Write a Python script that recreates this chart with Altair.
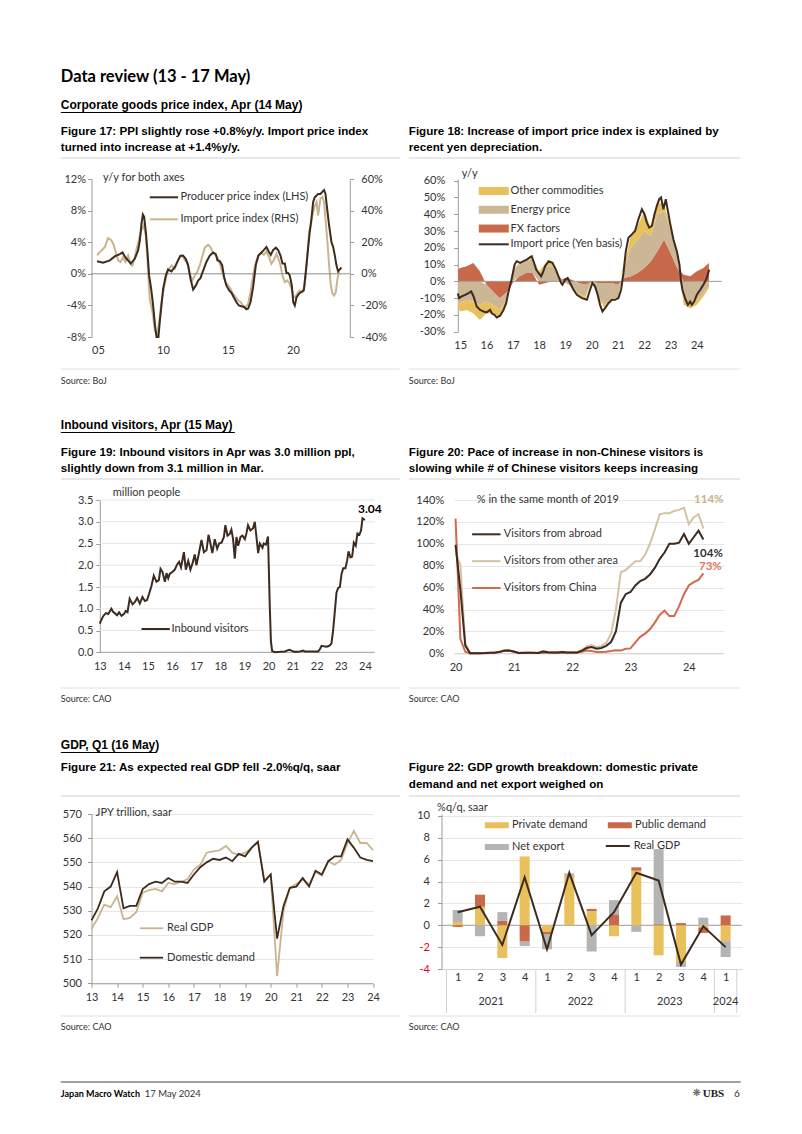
import json
import altair as alt
import pandas as pd

FONT = "Lato"
HFONT = "Liberation Sans"
TXT = "#333333"
BLACK = "#000000"
AX = "#9b9b9b"
GRID = "#e6e6e6"
LIGHT_RULE = "#e0e0e0"
DARK = "#3d2b1f"
BEIGE = "#c9b48f"
YELLOW = "#e9c15c"
TAN = "#cbb696"
TERRA = "#c8694a"
GRAYBAR = "#b4b4b4"
ORANGE = "#d2694b"
PALE = "#d4c3a2"

# ============================ DATA ============================
# Fig 17: PPI y/y (LHS, %) and import price index y/y (RHS, %)
PPI = [(2004.93, 1.6), (2005.39, 1.4), (2005.91, 1.7), (2006.29, 2.2), (2006.68, 2.5), (2006.88, 2.7),
       (2007.14, 2.0), (2007.52, 1.3), (2007.83, 1.9), (2008.09, 3.0), (2008.22, 4.2), (2008.34, 6.3),
       (2008.45, 7.5), (2008.55, 7.2), (2008.68, 5.3), (2008.81, 2.7), (2008.93, -0.2), (2009.09, -1.9),
       (2009.24, -4.0), (2009.39, -6.6), (2009.50, -8.0), (2009.65, -8.0), (2009.75, -6.1), (2009.88, -4.0),
       (2010.01, -1.9), (2010.22, -0.2), (2010.39, 0.55), (2010.65, 0.3), (2010.91, 0.85), (2011.16, 1.7),
       (2011.34, 2.3), (2011.55, 2.3), (2011.75, 1.9), (2011.93, 1.1), (2012.11, -0.6), (2012.32, -2.0),
       (2012.52, -1.5), (2012.70, -0.85), (2012.88, -0.55), (2013.09, 0.4), (2013.34, 1.5), (2013.60, 2.3),
       (2013.86, 2.7), (2014.06, 2.5), (2014.19, 1.7), (2014.37, 1.6), (2014.55, 1.1), (2014.70, -0.4),
       (2014.88, -1.5), (2015.09, -2.1), (2015.27, -2.4), (2015.45, -3.0), (2015.65, -3.6), (2015.83, -4.0),
       (2016.04, -4.1), (2016.22, -4.2), (2016.42, -4.5), (2016.55, -4.4), (2016.73, -3.6), (2016.93, -1.7),
       (2017.14, 1.1), (2017.34, 2.3), (2017.57, 2.7), (2017.75, 3.0), (2017.96, 3.4), (2018.14, 2.8),
       (2018.29, 2.4), (2018.47, 3.0), (2018.68, 3.3), (2018.86, 3.0), (2019.04, 2.3), (2019.19, 1.3),
       (2019.37, 1.3), (2019.50, 0.1), (2019.62, 0.1), (2019.75, -0.2), (2019.91, -1.5), (2020.02, -3.6),
       (2020.14, -4.0), (2020.27, -3.0), (2020.48, -2.5), (2020.65, -2.3), (2020.83, -2.1), (2021.04, 1.1),
       (2021.16, 3.2), (2021.29, 5.3), (2021.42, 7.0), (2021.55, 9.1), (2021.68, 9.7), (2021.81, 9.9),
       (2021.93, 10.1), (2022.11, 10.1), (2022.27, 10.4), (2022.39, 10.6), (2022.50, 10.1), (2022.63, 8.2),
       (2022.78, 6.1), (2022.96, 4.0), (2023.09, 3.4), (2023.22, 2.3), (2023.34, 1.1), (2023.47, 0.3),
       (2023.60, 0.55), (2023.73, 0.8)]
IMP = [(2004.93, 11.6), (2005.14, 13.7), (2005.52, 16.9), (2005.78, 22.6), (2006.04, 21.1), (2006.22, 18.0),
       (2006.37, 13.7), (2006.55, 8.5), (2006.73, 7.4), (2006.93, 10.6), (2007.11, 7.4), (2007.32, 11.6),
       (2007.50, 6.3), (2007.65, 5.3), (2007.83, 10.6), (2008.01, 16.9), (2008.16, 22.2), (2008.34, 27.5),
       (2008.52, 31.0), (2008.68, 24.0), (2008.78, 12.0), (2008.98, -16.0), (2009.19, -24.0), (2009.37, -36.0),
       (2009.55, -38.0), (2009.70, -30.7), (2009.88, -18.0), (2010.06, -9.5), (2010.27, -1.0), (2010.47, 3.2),
       (2010.65, 5.3), (2010.91, 3.2), (2011.09, 7.4), (2011.29, 10.6), (2011.50, 11.6), (2011.68, 8.5),
       (2011.86, 7.4), (2012.06, 0.0), (2012.27, -4.2), (2012.45, -1.0), (2012.63, 1.1), (2012.83, 5.3),
       (2013.04, 11.6), (2013.24, 16.9), (2013.47, 18.4), (2013.65, 16.9), (2013.86, 13.3), (2014.06, 11.6),
       (2014.24, 9.5), (2014.42, 5.3), (2014.63, -1.0), (2014.81, -5.3), (2015.01, -7.4), (2015.19, -9.5),
       (2015.39, -12.7), (2015.60, -14.8), (2015.78, -16.9), (2015.98, -18.0), (2016.16, -20.1), (2016.37, -21.1),
       (2016.55, -19.0), (2016.73, -11.6), (2016.93, -1.0), (2017.14, 7.4), (2017.34, 11.6), (2017.57, 13.3),
       (2017.75, 12.0), (2017.96, 14.2), (2018.16, 10.6), (2018.34, 6.3), (2018.52, 8.5), (2018.73, 12.7),
       (2018.88, 9.5), (2019.04, 5.3), (2019.19, -1.0), (2019.37, -5.3), (2019.55, -4.2), (2019.75, -6.3),
       (2019.93, -10.6), (2020.06, -14.8), (2020.16, -14.8), (2020.32, -12.7), (2020.52, -10.6), (2020.73, -11.6),
       (2020.91, -7.4), (2021.09, 11.6), (2021.24, 26.4), (2021.37, 30.7), (2021.50, 37.0), (2021.65, 42.3),
       (2021.81, 45.5), (2021.93, 37.0), (2022.11, 47.6), (2022.27, 48.6), (2022.39, 45.5), (2022.52, 32.8),
       (2022.65, 20.1), (2022.78, 5.3), (2022.91, -7.4), (2023.04, -12.7), (2023.16, -13.7), (2023.29, -11.6),
       (2023.42, -3.2), (2023.55, 1.4)]

# Fig 18: contributions to import price y/y (%), quarterly
T18 = [2014.92, 2015.0, 2015.25, 2015.5, 2015.75, 2016.0, 2016.25, 2016.5, 2016.75, 2017.0, 2017.25, 2017.5,
       2017.75, 2018.0, 2018.25, 2018.5, 2018.75, 2019.0, 2019.25, 2019.5, 2019.75, 2020.0, 2020.25, 2020.5,
       2020.75, 2021.0, 2021.25, 2021.5, 2021.75, 2022.0, 2022.25, 2022.5, 2022.75, 2023.0, 2023.25, 2023.5,
       2023.75, 2024.0, 2024.25, 2024.46]
FX18 = [7, 8, 9, 11, 6, -2, -6, -10, -7, -1, 3, 5, 5, -2, -1, 0, 0.5, 2, 1, -1, -2, -1, -1, -1, -1, -2, 2, 3, 5,
        8, 12, 18, 25, 17, 8, 4, 3, 6, 8, 11]
EN18 = [-11, -13, -11, -12, -14, -10, -8, -7, -4, 6, 7, 7, 8, 5, 9, 9, 3, -1, -3, -6, -7, 0, -8, -13, -9, -8, 7,
        17, 20, 22, 15, 22, 17, 14, 9, -11, -13, -11, -7, -3]
OT18 = [-4, -5, -6, -7, -9, -7, -5, -4, -2, 1, 1, 1, 1, 1, 2, 2, 0, 0, -1, -1, -1.5, 0, -1, -2, -1, 0, 1, 8, 8,
        12, 5, 7, 4, 2, 0, -3, -3, -3, -2, -1]
IMPYEN = [(2014.91, -7.2), (2014.96, -10), (2015.06, -9), (2015.19, -8), (2015.32, -7), (2015.42, -6),
          (2015.51, -9), (2015.63, -15), (2015.76, -17), (2015.89, -18), (2016.01, -18.5), (2016.14, -17),
          (2016.20, -19), (2016.31, -20), (2016.39, -21.5), (2016.52, -20.5), (2016.65, -17), (2016.75, -13),
          (2016.84, -6), (2016.94, 0), (2017.07, 10), (2017.15, 12), (2017.28, 11), (2017.41, 12), (2017.53, 13),
          (2017.62, 14), (2017.72, 15), (2017.79, 12), (2017.89, 7), (2017.98, 5), (2018.08, 3), (2018.14, 5),
          (2018.23, 9), (2018.36, 12), (2018.51, 11), (2018.64, 7), (2018.74, 3), (2018.84, -1), (2018.89, -2),
          (2018.99, 1), (2019.09, 2), (2019.18, -1), (2019.31, -5), (2019.44, -8), (2019.63, -10), (2019.82, -11),
          (2019.94, -5), (2020.03, -1), (2020.13, -3), (2020.23, -8), (2020.32, -14), (2020.41, -18),
          (2020.51, -16), (2020.64, -13), (2020.77, -11), (2020.89, -11), (2021.02, -10), (2021.12, -5),
          (2021.21, 5), (2021.30, 18), (2021.40, 26), (2021.53, 28), (2021.65, 30), (2021.78, 37), (2021.91, 43),
          (2022.01, 40), (2022.10, 35), (2022.19, 32), (2022.29, 33), (2022.39, 40), (2022.48, 45), (2022.57, 49),
          (2022.64, 50), (2022.73, 43), (2022.82, 49), (2022.90, 42), (2022.98, 35), (2023.11, 25), (2023.24, 18),
          (2023.34, 10), (2023.40, 0), (2023.45, -5), (2023.55, -10), (2023.66, -14), (2023.75, -12),
          (2023.81, -14), (2023.90, -12), (2024.00, -8), (2024.13, -5), (2024.21, -3), (2024.32, 0), (2024.38, 2),
          (2024.47, 7)]

# Fig 19: inbound visitors (million people)
INBOUND = [(2013.00, 0.66), (2013.07, 0.75), (2013.14, 0.83), (2013.25, 0.90), (2013.35, 0.88), (2013.48, 1.00),
           (2013.55, 0.93), (2013.62, 0.90), (2013.72, 0.85), (2013.80, 0.92), (2013.90, 0.84), (2014.00, 0.88),
           (2014.08, 0.95), (2014.15, 0.92), (2014.24, 1.23), (2014.36, 1.10), (2014.45, 1.15), (2014.55, 1.25),
           (2014.66, 1.12), (2014.77, 1.27), (2014.87, 1.18), (2014.96, 1.20), (2015.05, 1.35), (2015.14, 1.52),
           (2015.24, 1.76), (2015.35, 1.62), (2015.45, 1.66), (2015.52, 1.92), (2015.60, 1.85), (2015.70, 1.62),
           (2015.77, 1.82), (2015.84, 1.70), (2015.90, 1.80), (2016.02, 1.85), (2016.11, 1.90), (2016.21, 2.02),
           (2016.29, 2.08), (2016.37, 1.95), (2016.49, 2.30), (2016.57, 1.90), (2016.67, 2.10), (2016.76, 1.90),
           (2016.85, 2.05), (2016.94, 2.25), (2017.01, 2.00), (2017.12, 2.30), (2017.22, 2.58), (2017.32, 2.30),
           (2017.43, 2.35), (2017.51, 2.70), (2017.59, 2.50), (2017.67, 2.28), (2017.77, 2.60), (2017.87, 2.38),
           (2017.95, 2.50), (2018.05, 2.52), (2018.15, 2.65), (2018.21, 2.92), (2018.30, 2.68), (2018.39, 2.72),
           (2018.46, 2.82), (2018.53, 2.60), (2018.60, 2.15), (2018.67, 2.65), (2018.74, 2.45), (2018.84, 2.65),
           (2018.92, 2.68), (2019.02, 2.60), (2019.09, 2.75), (2019.15, 2.92), (2019.25, 2.80), (2019.36, 2.85),
           (2019.43, 3.00), (2019.50, 2.65), (2019.57, 2.28), (2019.64, 2.50), (2019.75, 2.40), (2019.80, 2.50),
           (2019.89, 2.47), (2019.98, 2.66), (2020.05, 1.10), (2020.10, 0.25), (2020.15, 0.03), (2020.26, 0.003),
           (2020.47, 0.01), (2020.68, 0.02), (2020.81, 0.05), (2020.88, 0.06), (2020.95, 0.04), (2021.09, 0.01),
           (2021.30, 0.02), (2021.44, 0.04), (2021.51, 0.02), (2021.85, 0.02), (2022.06, 0.02), (2022.13, 0.07),
           (2022.20, 0.15), (2022.29, 0.14), (2022.41, 0.13), (2022.52, 0.15), (2022.61, 0.20), (2022.68, 0.50),
           (2022.75, 0.93), (2022.82, 1.37), (2022.89, 1.48), (2022.96, 1.50), (2023.03, 1.80), (2023.10, 1.93),
           (2023.19, 1.93), (2023.26, 2.10), (2023.32, 2.32), (2023.40, 2.18), (2023.47, 2.20), (2023.54, 2.52),
           (2023.62, 2.45), (2023.69, 2.73), (2023.77, 2.70), (2023.84, 2.80), (2023.90, 3.08), (2024.00, 3.04)]

# Fig 20: visitors, % of the same month of 2019 (monthly Jan 2020 - Apr 2024)
MONTH_START = "2020-01"
ABROAD = [99, 58, 7, 0.1, 0.1, 0.1, 0.2, 0.4, 0.6, 1.1, 2.4, 2.6,
          1.7, 0.3, 0.6, 0.4, 0.4, 0.3, 1.7, 1.0, 0.8, 0.8, 1.2, 0.7,
          0.7, 0.8, 2.4, 4.8, 5.8, 4.2, 4.9, 6.8, 10.3, 20, 46, 54,
          56, 62, 66, 68, 72, 78, 86, 92, 100, 100, 101, 109,
          100, 106, 112, 104]
OTHER = [92, 80, 9, 0.1, 0.1, 0.1, 0.2, 0.4, 0.7, 1.2, 2.5, 2.3,
         1.5, 0.3, 0.6, 0.5, 0.4, 0.4, 2.3, 1.3, 1.0, 0.9, 1.4, 0.8,
         0.8, 0.9, 3.2, 6.2, 7.5, 5.5, 6.5, 9.5, 18, 40, 74, 76,
         80, 84, 84, 90, 100, 113, 127, 128, 128, 130, 131, 133,
         118, 124, 127, 114]
CHINA = [123, 13, 1.4, 0.03, 0.02, 0.02, 0.1, 0.2, 0.4, 1.5, 2.5, 2.5,
         1.5, 0.3, 0.3, 0.4, 0.2, 0.2, 0.5, 0.5, 0.4, 0.4, 0.5, 0.4,
         0.4, 0.5, 1.5, 2.5, 2.0, 1.3, 1.2, 1.5, 2.0, 2.7, 2.5, 4.2,
         4.5, 10, 15, 18, 22, 28, 35, 39, 34, 34, 43, 54,
         62, 65, 67, 73]

# Fig 21: JPY trillion, saar (quarterly 2013Q1 - 2024Q1)
Q_START = 2013
RGDP = [522.5, 527, 532.5, 531.5, 536, 526.5, 527, 529.5, 537.5, 538.5, 539, 538, 541.5, 541, 542, 543, 547,
        549, 554, 554.5, 555, 556.8, 554, 553, 554, 556, 558.5, 542.5, 545, 503, 530, 539.5, 541, 543, 541,
        546, 544.5, 550.5, 549, 551, 558, 563, 558, 558, 555]
DDEM = [526, 531, 538, 540, 546, 531, 532, 532, 539, 541, 542, 541.5, 543.5, 542, 542, 541.5, 545, 548, 550,
        551.5, 551, 552, 550.5, 553.5, 552.5, 556, 558.5, 542, 545, 518.5, 532, 539.5, 540, 543.5, 540, 546.5,
        545, 550.5, 552.5, 552.5, 559.5, 556, 552, 551, 550.5]

# Fig 22: %q/q saar contributions
QUARTERS = ["2021Q1", "2021Q2", "2021Q3", "2021Q4", "2022Q1", "2022Q2", "2022Q3", "2022Q4",
            "2023Q1", "2023Q2", "2023Q3", "2023Q4", "2024Q1"]
PRIV = [0.3, 1.7, -3.0, 6.3, -0.6, 4.5, 1.3, -1.0, 5.0, -2.75, -3.36, -0.2, -1.45]
PUB = [-0.15, 1.1, 0.4, -1.5, -0.2, 0.05, 0.2, 1.0, 0.3, 0.1, 0.2, -0.5, 0.9]
NETX = [1.1, -1.0, 0.8, -0.4, -1.4, 0.2, -2.4, 1.3, -0.6, 6.87, -0.45, 0.7, -1.45]
GDPQ = [1.2, 1.7, -1.8, 4.4, -2.2, 4.8, -0.9, 1.2, 4.8, 4.1, -3.6, -0.1, -2.0]

# ============================ HELPERS ============================
ONE = pd.DataFrame({"k": [0]})


def text_at(o, s, px, py, size=11, bold=False, color=TXT, align="left", font=FONT):
    return alt.Chart(ONE).mark_text(
        text=s, align=align, baseline="middle", font=font, fontSize=size,
        fontWeight="bold" if bold else "normal", color=color,
    ).encode(x=alt.value(px - o[0]), y=alt.value(py - o[1]))


def rule_at(o, px1, px2, py, color, width=1.0, opacity=1.0):
    return alt.Chart(ONE).mark_rule(color=color, strokeWidth=width, strokeOpacity=opacity).encode(
        x=alt.value(px1 - o[0]), x2=alt.value(px2 - o[0]), y=alt.value(py - o[1]))


def leg_line(o, x1, x2, label_x, rows, sw=2.0):
    cx = (x1 + x2) / 2.0 - o[0]
    lx = cx - 5.5
    half = (x2 - x1) / 8.0
    props = dict(orient="none", legendX=lx, legendY=rows[0] - o[1] - 5.5, title=None, padding=0,
                 symbolType=f"M-{half:.3f},0H{half:.3f}", symbolSize=64, symbolStrokeWidth=sw,
                 labelOffset=(label_x - o[0]) - lx - 11, labelFont=FONT, labelFontSize=11, labelColor=TXT)
    if len(rows) > 1:
        props["rowPadding"] = (rows[1] - rows[0]) - 11
    return alt.Legend(**props)


def leg_rect(o, x1, x2, h, label_x, rows, columns=None, colpad=None):
    cx = (x1 + x2) / 2.0 - o[0]
    lx = cx - 5.5
    a = (x2 - x1) / 8.0
    b = h / 8.0
    props = dict(orient="none", legendX=lx, legendY=rows[0] - o[1] - 5.5, title=None, padding=0,
                 symbolType=f"M-{a:.3f},-{b:.3f}H{a:.3f}V{b:.3f}H-{a:.3f}Z", symbolSize=64,
                 symbolStrokeWidth=0, labelOffset=(label_x - o[0]) - lx - 11,
                 labelFont=FONT, labelFontSize=11, labelColor=TXT)
    if len(rows) > 1:
        props["rowPadding"] = (rows[1] - rows[0]) - 11
    if columns:
        props["columns"] = columns
        props["columnPadding"] = colpad
    return alt.Legend(**props)


YY = "format(datum.value % 100, '02d')"
PCT = "datum.value + '%'"


def heading(o, s, y, underline_to):
    return [text_at(o, s, 61, y, 12, True, BLACK, "left", HFONT),
            rule_at(o, 61, underline_to, y + 7.5, BLACK, 1.0)]


def caption(o, lines, x, ys, rule_x2, rule_y):
    out = [text_at(o, s, x, y, 11.6, True, BLACK, "left", HFONT) for s, y in zip(lines, ys)]
    out.append(rule_at(o, x, rule_x2, rule_y, LIGHT_RULE, 1.5))
    return out


def source(o, s, x, x2, rule_y, y):
    return [rule_at(o, x, x2, rule_y, LIGHT_RULE, 1.0), text_at(o, s, x, y, 9, False, TXT)]


def spacer(o, py):
    return rule_at(o, 61, 400, py, "#ffffff", 1.0, 0.0)


def ychan(field, domain, axis, stack=None):
    kw = dict(title=None, scale=alt.Scale(domain=domain, nice=False, zero=False), axis=axis)
    if stack:
        kw["stack"] = stack
    return alt.Y(field, **kw)


def xchan(field, domain, axis):
    return alt.X(field, title=None, scale=alt.Scale(domain=domain, nice=False, zero=False), axis=axis)


# ============================ FIG 17 ============================
O17 = (91.7, 179.0)
S_PPI, S_IMP = "Producer price index (LHS)", "Import price index (RHS)"
ppi = pd.DataFrame(PPI, columns=["t", "v"]); ppi["s"] = S_PPI
imp = pd.DataFrame(IMP, columns=["t", "v"]); imp["s"] = S_IMP
c17 = alt.Color("s:N", scale=alt.Scale(domain=[S_PPI, S_IMP], range=[DARK, BEIGE]),
                legend=leg_line(O17, 150.0, 178.3, 180.7, [197.3, 218.3]))
x17 = xchan("t:Q", [2004.5, 2024.37],
            alt.Axis(values=[2005, 2010, 2015, 2020], labelExpr=YY, domain=False, ticks=False, grid=False,
                     labelPadding=7))
y17l = ychan("v:Q", [-8, 12],
             alt.Axis(orient="left", values=[-8, -4, 0, 4, 8, 12], labelExpr=PCT, grid=False,
                      domainColor=AX, tickColor=AX, tickSize=4, labelPadding=2))
y17r = ychan("v:Q", [-40, 60],
             alt.Axis(orient="right", values=[-40, -20, 0, 20, 40, 60], labelExpr=PCT, grid=False,
                      domainColor=AX, tickColor=AX, tickSize=4, labelPadding=7))
imp_line = alt.Chart(imp).mark_line(strokeWidth=2).encode(x=x17, y=y17r, color=c17)
zero17 = alt.Chart(pd.DataFrame({"v": [0]})).mark_rule(color="#8c8c8c", strokeWidth=1).encode(y=y17l)
ppi_line = alt.Chart(ppi).mark_line(strokeWidth=2).encode(x=x17, y=y17l, color=c17)
decor17 = [
    spacer(O17, 62), spacer(O17, 395),
    text_at(O17, "Data review (13 - 17 May)", 61, 77, 16.5, True, BLACK),
    *heading(O17, "Corporate goods price index, Apr (14 May)", 105, 301),
    *caption(O17, ["Figure 17: PPI slightly rose +0.8%y/y. Import price index",
                   "turned into increase at +1.4%y/y."], 61, [132, 148], 400, 158),
    text_at(O17, "y/y for both axes", 103.3, 177.7, 11),
    *source(O17, "Source: BoJ", 61, 400, 369, 380.5),
]
fig17 = alt.layer(imp_line, alt.layer(zero17, ppi_line), *decor17).resolve_scale(
    y="independent").properties(width=258.3, height=158.0)

# ============================ FIG 18 ============================
O18 = (459.0, 179.0)
S_OT, S_EN, S_FX, S_YEN = "Other commodities", "Energy price", "FX factors", "Import price (Yen basis)"
rows18 = []
for t, fx, en, ot in zip(T18, FX18, EN18, OT18):
    rows18 += [(t, S_FX, fx, 0), (t, S_EN, en, 1), (t, S_OT, ot, 2)]
df18 = pd.DataFrame(rows18, columns=["t", "s", "v", "o"])
yen = pd.DataFrame(IMPYEN, columns=["t", "v"]); yen["s"] = S_YEN
x18 = xchan("t:Q", [2014.91, 2024.95],
            alt.Axis(values=list(range(2015, 2025)), labelExpr=YY, domain=False, ticks=False, grid=False,
                     labelPadding=8))
AX18 = alt.Axis(values=list(range(-30, 61, 10)), labelExpr=PCT, grid=False, domainColor=AX,
                tickColor=AX, tickSize=4, labelPadding=9)
y18s = ychan("v:Q", [-30, 61], AX18, stack="zero")
y18 = ychan("v:Q", [-30, 61], AX18)
area18 = alt.Chart(df18).mark_area(opacity=1).encode(
    x=x18, y=y18s,
    color=alt.Color("s:N", scale=alt.Scale(domain=[S_OT, S_EN, S_FX], range=[YELLOW, TAN, TERRA]),
                    legend=leg_rect(O18, 480, 510, 8, 511.7, [191.0, 208.77])),
    order=alt.Order("o:Q"))
zero18 = alt.Chart(pd.DataFrame({"v": [0]})).mark_rule(color="#9a9a9a", strokeWidth=1).encode(y=y18)
line18 = alt.Chart(yen).mark_line(strokeWidth=2).encode(
    x=x18, y=y18,
    color=alt.Color("s:N", scale=alt.Scale(domain=[S_YEN], range=[DARK]),
                    legend=leg_line(O18, 480, 510, 511.7, [244.3])))
decor18 = [
    *caption(O18, ["Figure 18: Increase of import price index is explained by",
                   "recent yen depreciation."], 410, [132, 148], 741, 158),
    text_at(O18, "y/y", 463, 174, 11),
    *source(O18, "Source: BoJ", 410, 741, 369, 380.5),
]
fig18 = alt.layer(area18, zero18, line18, *decor18).resolve_scale(color="independent").properties(
    width=264.0, height=152.7)

# ============================ FIG 19 ============================
O19 = (91.7, 500.0)
X19_END = 2024.41
Y19_TICKS = [0, 0.5, 1.0, 1.5, 2.0, 2.5, 3.0, 3.5]
inb = pd.DataFrame(INBOUND, columns=["t", "v"]); inb["s"] = "Inbound visitors"
x19 = xchan("t:Q", [2012.656, X19_END],
            alt.Axis(values=list(range(2013, 2025)), labelExpr=YY, domain=False, ticks=False, grid=False,
                     labelPadding=8))
y19 = ychan("v:Q", [0, 3.5],
            alt.Axis(values=Y19_TICKS, format=".1f", offset=-8.3, grid=False, domainColor=AX,
                     tickColor=AX, tickSize=4, labelPadding=3))
x19_start = float(inb["t"].iloc[0])
grid_df = pd.DataFrame({"v": Y19_TICKS, "t": x19_start, "t2": X19_END})
grid19 = alt.Chart(grid_df[grid_df["v"] > 0]).mark_rule(color=GRID, strokeWidth=1).encode(
    y=y19, x=x19, x2="t2:Q")
base19 = alt.Chart(grid_df[grid_df["v"] == 0]).mark_rule(color=AX, strokeWidth=1).encode(
    y=y19, x=x19, x2="t2:Q")
line19 = alt.Chart(inb).mark_line(strokeWidth=2).encode(
    x=x19, y=y19,
    color=alt.Color("s:N", scale=alt.Scale(domain=["Inbound visitors"], range=[DARK]),
                    legend=leg_line(O19, 141.7, 170.0, 171.7, [629.0])))
last19 = inb.tail(1).copy(); last19["lab"] = last19["v"].map(lambda v: f"{v:.2f}")
lab19 = alt.Chart(last19).mark_text(font=FONT, fontSize=12, fontWeight="bold", color=BLACK, dx=5, dy=-11,
                                     align="center", baseline="middle").encode(x=x19, y=y19, text="lab:N")
decor19 = [
    spacer(O19, 395), spacer(O19, 715),
    *heading(O19, "Inbound visitors, Apr (15 May)", 425, 235),
    *caption(O19, ["Figure 19: Inbound visitors in Apr was 3.0 million ppl,",
                   "slightly down from 3.1 million in Mar."], 61, [453, 469], 400, 479),
    text_at(O19, "million people", 113, 493, 11),
    *source(O19, "Source: CAO", 61, 400, 688, 698.5),
]
fig19 = alt.layer(grid19, base19, line19, lab19, *decor19).properties(width=283.3, height=152.3)

# ============================ FIG 20 ============================
O20 = (455.0, 500.0)
S_AB, S_OA, S_CN = "Visitors from abroad", "Visitors from other area", "Visitors from China"
months = pd.date_range(MONTH_START, periods=len(ABROAD), freq="MS")
tm = [d.year + (d.month - 1) / 12.0 for d in months]
d_ab = pd.DataFrame({"t": tm, "v": ABROAD, "s": S_AB})
d_oa = pd.DataFrame({"t": tm, "v": OTHER, "s": S_OA})
d_cn = pd.DataFrame({"t": tm, "v": CHINA, "s": S_CN})
c20 = alt.Color("s:N", scale=alt.Scale(domain=[S_AB, S_OA, S_CN], range=[DARK, PALE, ORANGE]),
                legend=leg_line(O20, 473.3, 501.7, 505.0, [534.3, 560.15]))
x20 = xchan("t:Q", [2019.97, 2024.6],
            alt.Axis(values=[2020, 2021, 2022, 2023, 2024], labelExpr=YY, domain=True,
                     domainColor="#d0d0d0", ticks=False, grid=False, labelPadding=8))
y20 = ychan("v:Q", [0, 140],
            alt.Axis(values=list(range(0, 141, 20)), labelExpr=PCT, domain=False, ticks=False, grid=True,
                     gridColor=GRID, labelPadding=10))
l_oa = alt.Chart(d_oa).mark_line(strokeWidth=2).encode(x=x20, y=y20, color=c20)
l_cn = alt.Chart(d_cn).mark_line(strokeWidth=2).encode(x=x20, y=y20, color=c20)
l_ab = alt.Chart(d_ab).mark_line(strokeWidth=2).encode(x=x20, y=y20, color=c20)


def end_label(df, color, dx, dy):
    last = df.tail(1).copy()
    last["lab"] = last["v"].map(lambda v: f"{v:.0f}%")
    return alt.Chart(last).mark_text(font=FONT, fontSize=11.5, fontWeight="bold", color=color, dx=dx, dy=dy,
                                     align="center", baseline="middle").encode(x=x20, y=y20, text="lab:N")


decor20 = [
    *caption(O20, ["Figure 20: Pace of increase in non-Chinese visitors is",
                   "slowing while # of Chinese visitors keeps increasing"], 410, [453, 469], 741, 479),
    text_at(O20, "% in the same month of 2019", 478, 500, 11),
    *source(O20, "Source: CAO", 410, 741, 688, 698.5),
]
fig20 = alt.layer(l_oa, l_cn, l_ab, end_label(d_oa, "#c8b28c", 5.4, -28.5), end_label(d_ab, TXT, 4.7, 14.5),
                  end_label(d_cn, "#d9775c", 7, -6), *decor20).properties(width=270.0, height=153.3)

# ============================ FIG 21 ============================
O21 = (91.7, 814.0)
S_RG, S_DD = "Real GDP", "Domestic demand"
tq = [Q_START + i / 4.0 for i in range(len(RGDP))]
d_rg = pd.DataFrame({"t": tq, "v": RGDP, "s": S_RG})
d_dd = pd.DataFrame({"t": tq, "v": DDEM, "s": S_DD})
c21 = alt.Color("s:N", scale=alt.Scale(domain=[S_RG, S_DD], range=[BEIGE, DARK]),
                legend=leg_line(O21, 140.0, 163.3, 167.3, [928.3, 956.7], sw=1.8))
x21 = xchan("t:Q", [2013, 2024],
            alt.Axis(values=list(range(2013, 2025)), labelExpr=YY, domainColor=AX, tickColor=AX,
                     tickSize=4, grid=False, labelPadding=4))
y21 = ychan("v:Q", [500, 570],
            alt.Axis(values=list(range(500, 571, 10)), domainColor=AX, tickColor=AX, tickSize=4,
                     labelPadding=6, grid=True, gridColor=GRID))
l_rg = alt.Chart(d_rg).mark_line(strokeWidth=1.8).encode(x=x21, y=y21, color=c21)
l_dd = alt.Chart(d_dd).mark_line(strokeWidth=1.8).encode(x=x21, y=y21, color=c21)
decor21 = [
    spacer(O21, 715), spacer(O21, 1045),
    *heading(O21, "GDP, Q1 (16 May)", 745, 157),
    *caption(O21, ["Figure 21: As expected real GDP fell -2.0%q/q, saar"], 61, [768], 400, 796),
    text_at(O21, "JPY trillion, saar", 96, 813, 11),
    *source(O21, "Source: CAO", 61, 400, 1016, 1027),
]
fig21 = alt.layer(l_rg, l_dd, *decor21).properties(width=281.6, height=169.3)

# ============================ FIG 22 ============================
O22 = (442.7, 814.0)
S_PR, S_PU, S_NX, S_GD = "Private demand", "Public demand", "Net export", "Real GDP"
rows22 = []
for i, (a, b, c) in enumerate(zip(PRIV, PUB, NETX)):
    rows22 += [(i, S_PR, a, 0), (i, S_PU, b, 1), (i, S_NX, c, 2)]
df22 = pd.DataFrame(rows22, columns=["i", "s", "v", "o"])
d_gdp = pd.DataFrame({"i": list(range(len(GDPQ))), "v": GDPQ, "s": S_GD})
qlabels = [q[-1] for q in QUARTERS]
years = sorted(set(q[:4] for q in QUARTERS))
yr_pos = pd.DataFrame({"i": [sum(i for i, q in enumerate(QUARTERS) if q[:4] == y) /
                             sum(1 for q in QUARTERS if q[:4] == y) for y in years], "lab": years})
seps = [min(i for i, q in enumerate(QUARTERS) if q[:4] == y) - 0.5 for y in years] + [len(QUARTERS) - 0.5]
sep_df = pd.DataFrame({"i": seps})
H22 = 155.0
x22 = xchan("i:Q", [-0.5, len(QUARTERS) - 0.5],
            alt.Axis(values=list(range(len(QUARTERS))), labelExpr=f"{json.dumps(qlabels)}[datum.value]",
                     domain=True, domainColor="#d6d6d6", ticks=False, grid=False, labelPadding=2))
AX22 = alt.Axis(values=list(range(-4, 11, 2)), labelExpr="datum.value + ''", domainColor=AX,
                tickColor=AX, tickSize=4, labelPadding=8, grid=True, gridColor=GRID,
                labelColor={"condition": {"test": "datum.value < 0", "value": "#e3001b"}, "value": TXT})
y22s = ychan("v:Q", [-4, 10.18], AX22, stack="zero")
y22 = ychan("v:Q", [-4, 10.18], AX22)
zero22 = alt.Chart(pd.DataFrame({"v": [0]})).mark_rule(color="#a0a0a0", strokeWidth=1).encode(y=y22)
# legend fills column-wise, so the domain lists Private, Net export, Public to read row-wise in the page
bars22 = alt.Chart(df22).mark_bar(size=10, opacity=1, orient="vertical").encode(
    x=x22, y=y22s,
    color=alt.Color("s:N", scale=alt.Scale(domain=[S_PR, S_NX, S_PU], range=[YELLOW, GRAYBAR, TERRA]),
                    legend=leg_rect(O22, 486.0, 510.0, 6, 513.3, [825.0, 846.0], columns=2, colpad=19)),
    order=alt.Order("o:Q"))
line22 = alt.Chart(d_gdp).mark_line(strokeWidth=2).encode(
    x=x22, y=y22,
    color=alt.Color("s:N", scale=alt.Scale(domain=[S_GD], range=[DARK]),
                    legend=leg_line(O22, 607.0, 631.0, 635.0, [846.0])))
sep22 = alt.Chart(sep_df).mark_rule(color="#d3d3d3", strokeWidth=1).encode(
    x=x22, y=alt.value(H22), y2=alt.value(1013 - O22[1]))
yrs22 = alt.Chart(yr_pos).mark_text(font=FONT, fontSize=11, color=TXT, align="center", baseline="middle").encode(
    x=x22, y=alt.value(1001.7 - O22[1]), text="lab:N")
decor22 = [
    *caption(O22, ["Figure 22: GDP growth breakdown: domestic private",
                   "demand and net export weighed on"], 410, [768, 785], 741, 796),
    text_at(O22, "%q/q, saar", 438.3, 808, 11),
    *source(O22, "Source: CAO", 410, 741, 1016, 1027),
]
fig22 = alt.layer(zero22, bars22, line22, sep22, yrs22, *decor22).resolve_scale(color="independent").properties(
    width=300.3, height=H22)

# ============================ FOOTER ============================
OF = (91.7, 1082.0)
footer = alt.layer(
    spacer(OF, 1045),
    rule_at(OF, 61, 741, 1082, "#444444", 1.0),
    text_at(OF, "Japan Macro Watch", 61, 1093.5, 9, True, BLACK, "left", FONT),
    text_at(OF, "17 May 2024", 145, 1093.5, 9.5, False, TXT, "left", FONT),
    text_at(OF, "\u274b", 697, 1093, 10, False, "#555555", "center", "DejaVu Sans"),
    text_at(OF, "UBS", 703, 1093.5, 11, True, "#222222", "left", "Liberation Serif"),
    text_at(OF, "6", 737, 1093.5, 10, False, TXT, "center"),
).properties(width=1, height=1)

# ============================ PAGE ============================
row1 = alt.hconcat(fig17, fig18, spacing=6.3).resolve_scale(color="independent")
row2 = alt.hconcat(fig19, fig20, spacing=6.3).resolve_scale(color="independent")
row3 = alt.hconcat(fig21, fig22, spacing=6).resolve_scale(color="independent")
chart = alt.vconcat(row1, row2, row3, footer, spacing=0).resolve_scale(color="independent").properties(
    padding={"left": 51.5, "top": 54, "right": 5, "bottom": 5}
).configure(font=FONT).configure_view(stroke=None).configure_axis(
    labelFont=FONT, labelFontSize=11, labelColor=TXT, labelOverlap=False, labelFlush=False
)

chart.save("out.html", embed_options={"renderer": "svg", "actions": False})
